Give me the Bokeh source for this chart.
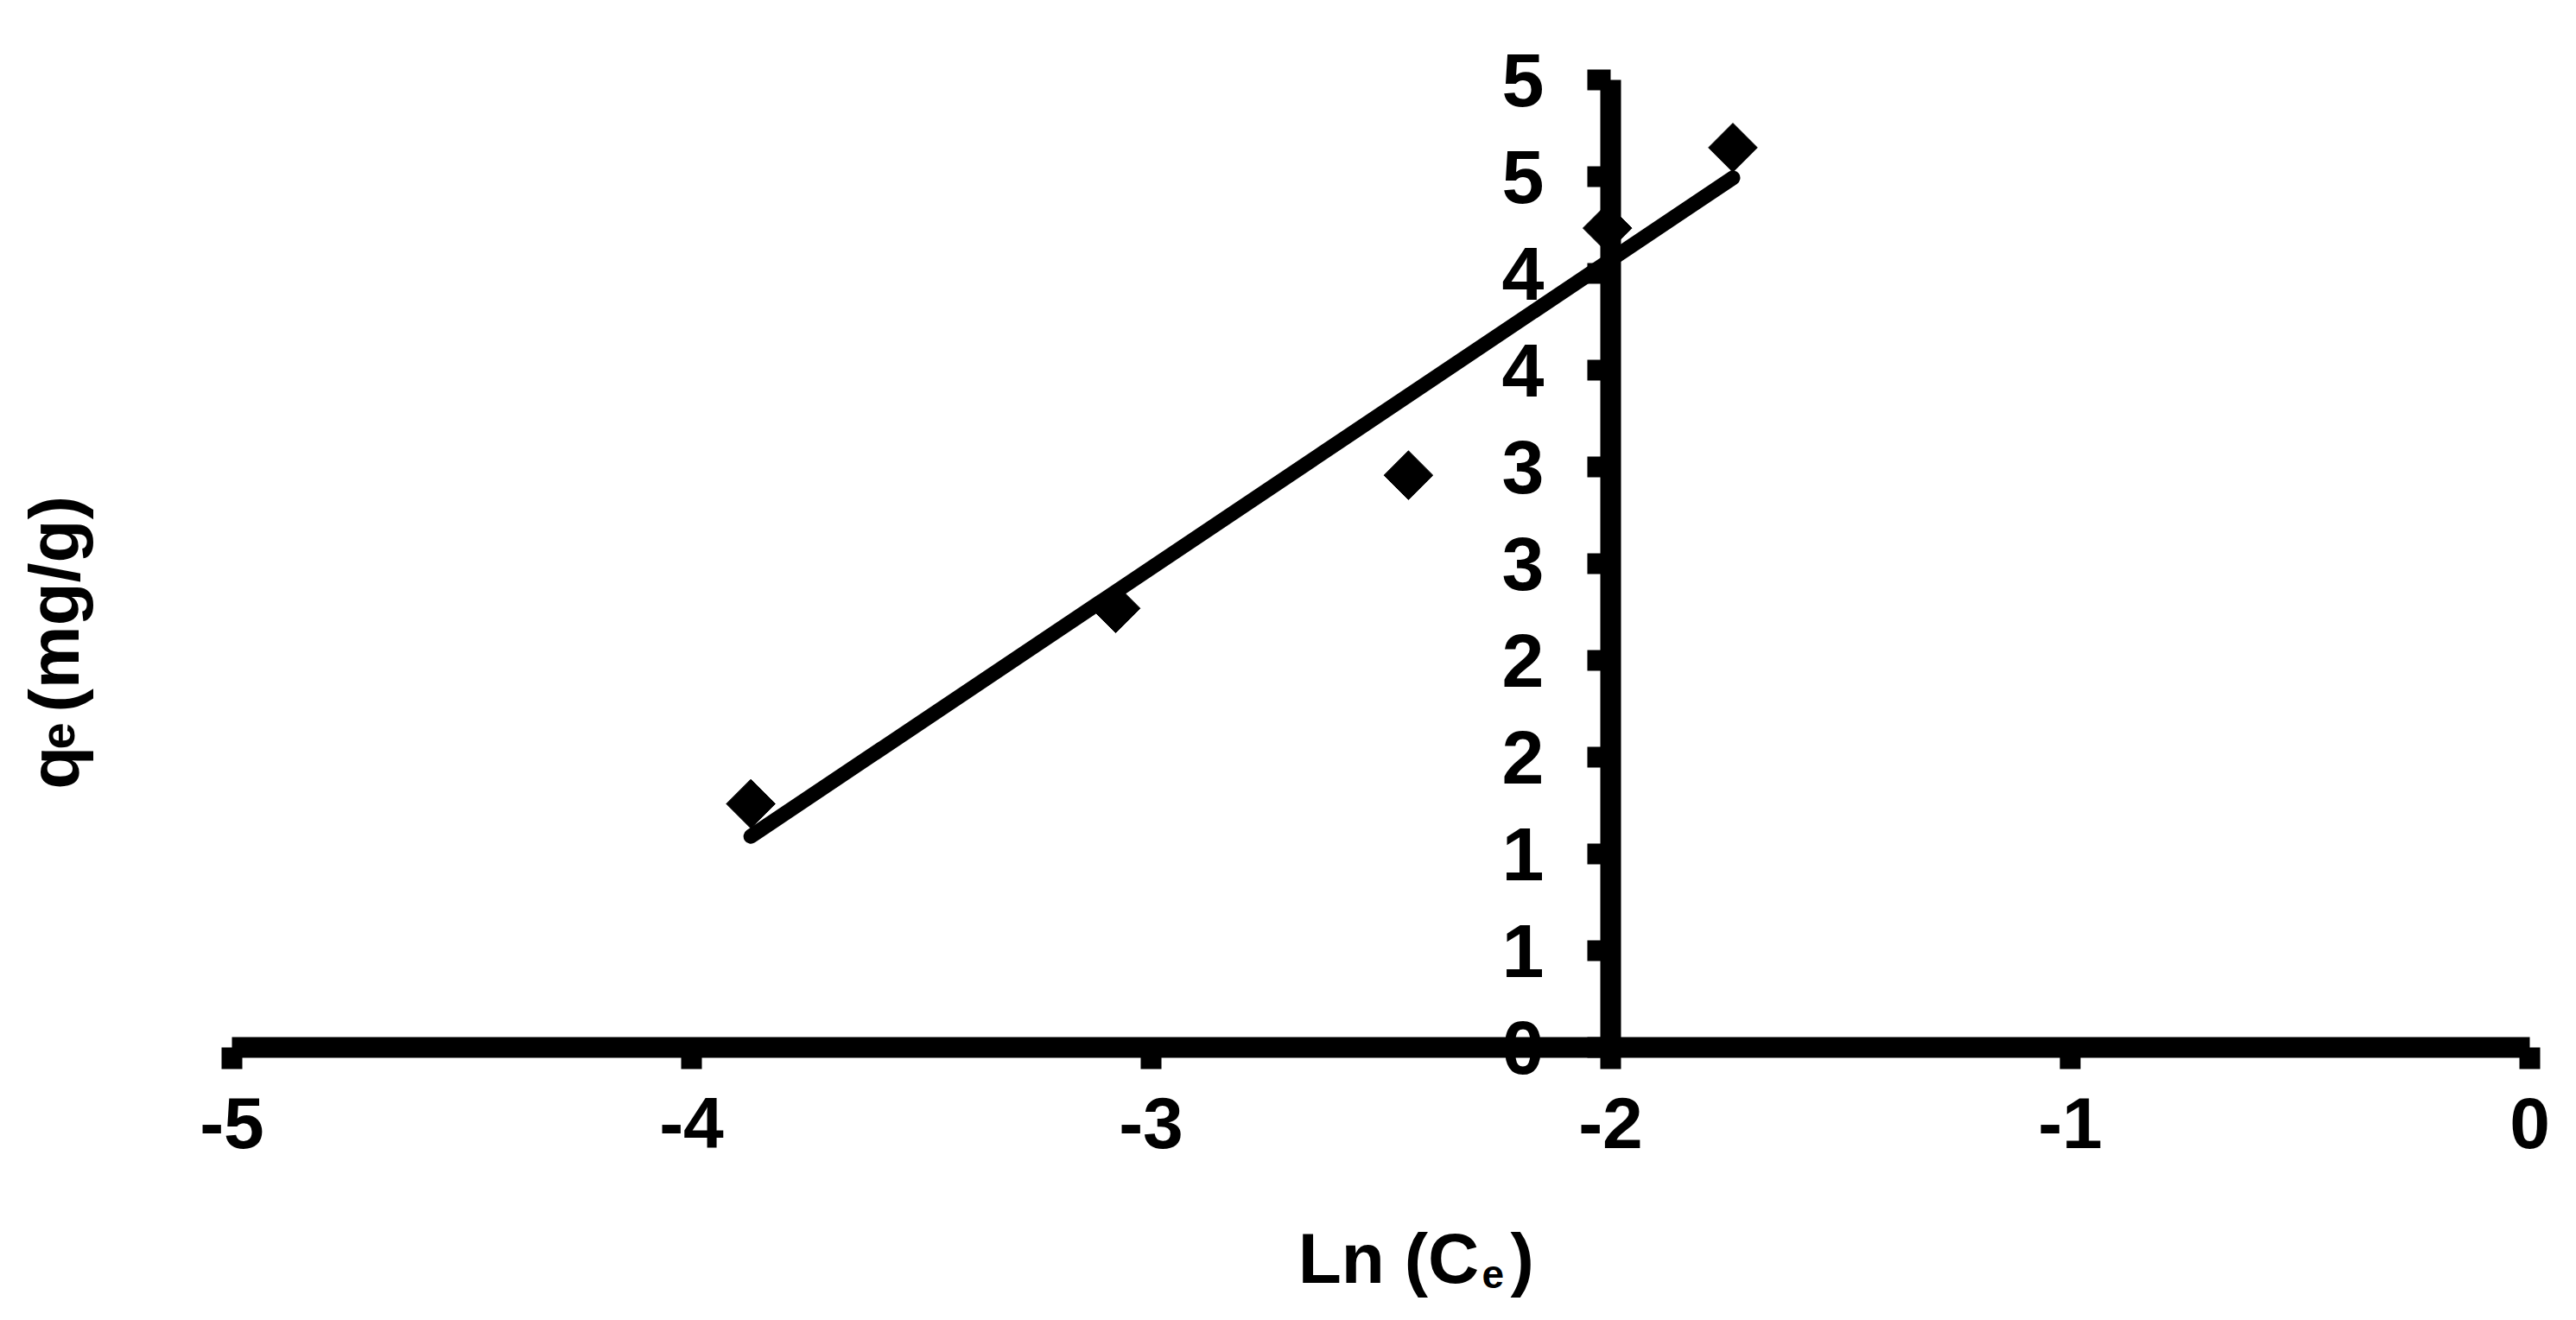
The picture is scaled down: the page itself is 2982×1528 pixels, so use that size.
import numpy as np
from math import pi
from bokeh.plotting import figure
from bokeh.models import Range1d, LinearAxis, FixedTicker, Label
from bokeh.embed import file_html
from bokeh.resources import INLINE

# ---- data ----
ln_ce = [-3.871, -3.077, -2.440, -2.007, -1.734]
qe = [1.259, 2.269, 2.957, 4.234, 4.650]

x_ticks = [-5, -4, -3, -2, -1, 0]
x_tick_labels = ["-5", "-4", "-3", "-2", "-1", "0"]
y_ticks = [0.0, 0.5, 1.0, 1.5, 2.0, 2.5, 3.0, 3.5, 4.0, 4.5, 5.0]
y_tick_labels = ["0", "1", "1", "2", "2", "3", "3", "4", "4", "5", "5"]

# linear trend line (least squares) over the data range
slope, intercept = np.polyfit(ln_ce, qe, 1)
fit_x = [min(ln_ce), max(ln_ce)]
fit_y = [slope * v + intercept for v in fit_x]

FONT = "Liberation Sans"
W, H = 2966, 1512
# pixel scale: x axis -5..0 over 2660 px, y axis 0..5 over 1120 px
XPX, YPX = 532.0, 224.0
x0 = -5 - 268 / XPX
y0 = -300 / YPX

p = figure(width=W, height=H,
           x_range=Range1d(x0, x0 + W / XPX), y_range=Range1d(y0, y0 + H / YPX),
           x_axis_location=None, y_axis_location=None,
           output_backend="svg", toolbar_location=None,
           min_border_left=0, min_border_right=0,
           min_border_top=0, min_border_bottom=0)
p.xgrid.grid_line_color = None
p.ygrid.grid_line_color = None
p.outline_line_color = None
p.background_fill_color = "white"
p.border_fill_color = "white"

AXW = 24
xaxis = LinearAxis(fixed_location=0, bounds=(-5, 0),
                   ticker=FixedTicker(ticks=x_ticks),
                   major_label_overrides={float(t): l for t, l in zip(x_ticks, x_tick_labels)})
yaxis = LinearAxis(fixed_location=-2, bounds=(0, 5),
                   ticker=FixedTicker(ticks=y_ticks),
                   major_label_overrides={float(t): l for t, l in zip(y_ticks, y_tick_labels)})
for ax in (xaxis, yaxis):
    ax.axis_line_width = AXW
    ax.axis_line_color = "black"
    ax.major_tick_line_width = AXW
    ax.major_tick_line_color = "black"
    ax.major_tick_in = 0
    ax.minor_tick_in = 0
    ax.minor_tick_out = 0
    ax.major_label_text_font = FONT
    ax.major_label_text_font_style = "bold"
    ax.major_label_text_color = "black"
xaxis.major_tick_out = 25
xaxis.major_label_standoff = 33
xaxis.major_label_text_font_size = "84px"
yaxis.major_tick_out = 27
yaxis.major_label_standoff = 50
yaxis.major_label_text_font_size = "88px"
p.add_layout(xaxis, "below")
p.add_layout(yaxis, "left")

p.line(fit_x, fit_y, line_width=17, line_color="black", line_cap="round")
p.scatter(ln_ce, qe, marker="square", angle=pi / 4, size=40,
          fill_color="black", line_color="black", line_width=1)

# ---- axis titles (with subscripts) ----
def lab(**kw):
    base = dict(text_font=FONT, text_font_style="bold", text_color="black",
                text_baseline="alphabetic", text_align="left")
    base.update(kw)
    p.add_layout(Label(**base))

# x title: Ln (C_e)
lab(x=-2.680, y=-1.089, text="Ln (C", text_font_size="82px")
lab(x=-2.280, y=-1.174, text="e", text_font_size="46px")
lab(x=-2.218, y=-1.089, text=")", text_font_size="82px")

# y title: q_e (mg/g), rotated
lab(x=-5.387, y=1.334, text="q", text_font_size="82px", angle=pi / 2)
lab(x=-5.378, y=1.540, text="e", text_font_size="56px", angle=pi / 2)
lab(x=-5.387, y=1.732, text="(mg/g)", text_font_size="82px", angle=pi / 2)

open("out.html", "w").write(file_html(p, INLINE))
